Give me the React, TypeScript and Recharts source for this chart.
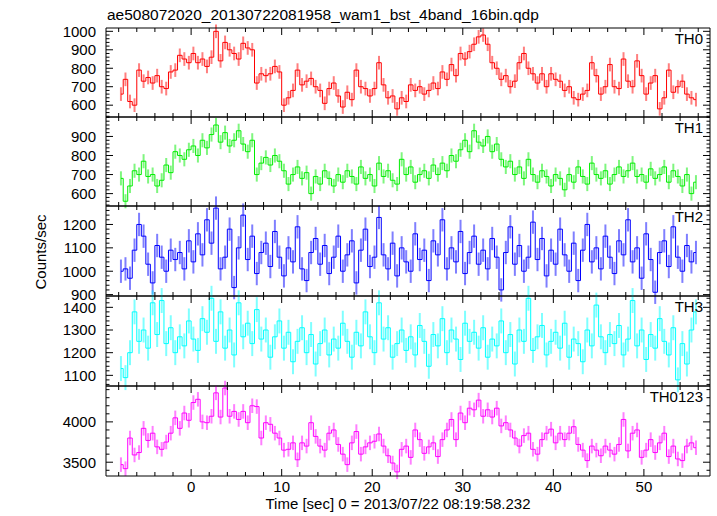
import React from 'react';
import { LineChart, Line, XAxis, YAxis, ErrorBar } from 'recharts';

// light curve: 0.5 s bins, first bin centre at -7.75 s
const T_START = -7.75;
const BIN = 0.5;

const th0 = [
  660, 740, 620, 600, 790, 730, 750, 720, 760, 700, 690, 780, 790, 870, 850, 830,
  880, 830, 850, 810, 860, 1000, 840, 940, 900, 880, 850, 935, 910, 900, 720, 770,
  760, 770, 810, 780, 600, 640, 680, 790, 710, 730, 745, 700, 680, 610, 690, 720,
  650, 590, 670, 630, 790, 700, 690, 650, 690, 830, 710, 640, 650, 580, 640, 620,
  710, 680, 700, 660, 680, 720, 690, 780, 740, 820, 760, 880, 850, 890, 930, 970,
  980, 930, 830, 800, 740, 760, 700, 730, 830, 880, 800, 770, 720, 770, 700, 770,
  740, 730, 680, 700, 640, 630, 660, 680, 830, 760, 660, 700, 820, 700, 690, 850,
  730, 700, 840, 760, 660, 720, 760, 580, 640, 790, 670, 700, 730, 660, 640, 630,
];

const th1 = [
  680, 560, 640, 720, 700, 770, 690, 700, 640, 670, 750, 710, 820, 800, 780, 830,
  850, 800, 880, 840, 910, 960, 870, 920, 850, 880, 930, 860, 820, 880, 700, 760,
  790, 750, 800, 770, 720, 650, 700, 740, 680, 710, 600, 690, 650, 720, 680, 640,
  700, 660, 720, 690, 650, 740, 680, 700, 640, 760, 690, 720, 670, 650, 780, 700,
  740, 660, 700, 720, 680, 750, 700, 760, 720, 800, 770, 830, 880, 820, 930, 870,
  850, 900, 820, 860, 780, 740, 770, 700, 740, 680, 780, 700, 660, 720, 690, 640,
  700, 680, 620, 700, 660, 740, 690, 650, 760, 700, 680, 720, 650, 700, 740, 690,
  720, 760, 690, 700, 660, 730, 680, 700, 740, 660, 720, 690, 640, 700, 600, 660,
];

const th2 = [
  1000, 1010, 970, 1090, 1200, 1150, 1030, 950, 1110, 1060, 1000, 1090, 1050, 1080, 1010, 1130,
  1040, 1160, 1070, 1220, 1120, 1270, 1010, 1060, 1180, 930, 1100, 1240, 1050, 1150, 990, 1080,
  1120, 1020, 1170, 1060, 980, 1100, 1040, 1190, 1010, 960, 1080, 1140, 1030, 1110, 990, 1060,
  1150, 1000, 1070, 1130, 950, 1090, 1180, 1020, 1060, 1230, 1070, 1010, 1120, 980, 1100, 1040,
  1000, 1160, 1050, 1090, 960, 1130, 1070, 1220, 1010, 1100, 1040, 1170, 990, 1080, 1150, 1030,
  1090, 1010, 1140, 1060, 920, 1080, 1190, 1030, 1110, 1000, 1060, 1210, 1050, 1140, 980, 1090,
  1030, 1180, 1070, 1000, 1120, 960, 1090, 1200, 1040, 1100, 1010, 1150, 1060, 990, 1130, 1070,
  1220, 1040, 1100, 970, 1160, 1050, 910, 1080, 1130, 1020, 1190, 1060, 1000, 1110, 1040, 1080,
];

const th3 = [
  1130, 1090, 1200, 1380, 1250, 1300, 1220, 1420, 1280, 1430, 1240, 1310, 1200, 1270, 1230, 1340,
  1260, 1210, 1350, 1290, 1440, 1250, 1380, 1220, 1300, 1190, 1420, 1270, 1330, 1240, 1390, 1260,
  1300, 1180, 1270, 1340, 1220, 1290, 1160, 1250, 1310, 1200, 1280, 1150, 1240, 1300, 1190, 1260,
  1220, 1330, 1250, 1180, 1290, 1230, 1380, 1270, 1200, 1420, 1260, 1310, 1180, 1240, 1300, 1210,
  1270, 1190, 1320, 1250, 1140, 1280, 1230, 1350, 1200, 1300, 1260, 1170, 1330, 1250, 1290, 1220,
  1310, 1180, 1260, 1230, 1340, 1200, 1280, 1150, 1300, 1250, 1440, 1210, 1270, 1320, 1190, 1250,
  1290, 1220, 1330, 1180, 1260, 1240, 1160, 1300, 1230, 1410, 1270, 1200, 1280, 1240, 1320, 1190,
  1260, 1430, 1230, 1300, 1170, 1280, 1220, 1350, 1250, 1190, 1310, 1080, 1240, 1150, 1300, 1380,
];

const th0123 = [
  3470, 3420, 3800, 3590, 3620, 3920, 3770, 3860, 3690, 3660, 3750, 3860, 4050, 3920, 4110, 4020,
  4240, 4280, 4000, 3990, 4070, 4360, 4060, 4420, 4070, 4130, 4030, 4130, 3990, 4200, 4190, 3800,
  3990, 3970, 3860, 3800, 3650, 3660, 3740, 3530, 3740, 3700, 3990, 3820, 3700, 3650, 3860, 3900,
  3720, 3600, 3470, 3740, 3880, 3600, 3690, 3740, 3760, 3850, 3700, 3580, 3490, 3380, 3660, 3700,
  3560, 3900, 3780, 3610, 3690, 3740, 3570, 3780, 3900, 4030, 3780, 4110, 3990, 4170, 4150, 4270,
  4070, 4150, 4060, 4170, 3950, 3990, 3900, 3800, 3700, 3830, 3860, 3660, 3600, 3780, 3860, 3910,
  3740, 3860, 3780, 3860, 3940, 3720, 3650, 3520, 3700, 3650, 3580, 3700, 3650, 3600, 3720, 4030,
  3640, 3860, 3900, 3560, 3650, 3780, 3620, 3740, 3860, 3570, 3700, 3540, 3520, 3700, 3740, 3680,
];

// typical 1-sigma error bar per band (counts/sec)
const errors = [37, 37, 50, 55, 90];

const bandNames = ['TH0', 'TH1', 'TH2', 'TH3', 'TH0123'];
const yLabels = [
  [600, 700, 800, 900, 1000],
  [600, 700, 800, 900],
  [900, 1000, 1100, 1200],
  [1100, 1200, 1300, 1400],
  [3500, 4000],
];
const xLabels = [0, 10, 20, 30, 40, 50];

const series = [th0, th1, th2, th3, th0123];
const colors = ['#ff0000', '#00ee00', '#0000ff', '#00ffff', '#ff00ff'];
const yDomains: [number, number][] = [
  [536, 1018],
  [535, 1002],
  [894, 1279],
  [1053, 1450],
  [3329, 4445],
];
const yMinorStep = [20, 20, 20, 20, 100];

const XMIN = -9.4;
const XMAX = 57.3;
const xTicks = Array.from({ length: 33 }, (_, i) => -8 + 2 * i);

const W = 717;
const PLOT_L = 106;
const PLOT_R = 710;
const panelTop = [28, 117, 206, 296, 386];
const panelH = [89, 89, 90, 90, 90];
const PAD = 12;
const FONT = '"Liberation Sans", Arial, Helvetica, sans-serif';

const minorTicks = (dom: [number, number], step: number) => {
  const out: number[] = [];
  for (let v = Math.ceil(dom[0] / step) * step; v <= dom[1]; v += step) out.push(v);
  return out;
};

const leftTick = (labels: number[]) => (props: any) => {
  const { y, payload } = props;
  const major = labels.includes(payload.value);
  return (
    <g>
      <line x1={PLOT_L} x2={PLOT_L + (major ? 7 : 3.5)} y1={y} y2={y} stroke="#000" strokeWidth={1} />
      {major && (
        <text x={PLOT_L - 10} y={y} dy={5.3} textAnchor="end" fontSize={15} fontFamily={FONT} fill="#000">
          {payload.value}
        </text>
      )}
    </g>
  );
};

const rightTick = (labels: number[]) => (props: any) => {
  const { y, payload } = props;
  const len = labels.includes(payload.value) ? 7 : 3.5;
  return <line x1={PLOT_R - len} x2={PLOT_R} y1={y} y2={y} stroke="#000" strokeWidth={1} />;
};

const bottomTick = (plotBottom: number, showLabel: boolean) => (props: any) => {
  const { x, payload } = props;
  const major = xLabels.includes(payload.value);
  return (
    <g>
      <line x1={x} x2={x} y1={plotBottom - (major ? 7 : 4)} y2={plotBottom} stroke="#000" strokeWidth={1} />
      {showLabel && major && (
        <text x={x} y={plotBottom + 16} textAnchor="middle" fontSize={15} fontFamily={FONT} fill="#000">
          {payload.value}
        </text>
      )}
    </g>
  );
};

const topTick = (plotTop: number) => (props: any) => {
  const { x, payload } = props;
  const major = xLabels.includes(payload.value);
  return <line x1={x} x2={x} y1={plotTop} y2={plotTop + (major ? 7 : 4)} stroke="#000" strokeWidth={1} />;
};

const Panel: React.FC<{ idx: number }> = ({ idx }) => {
  const values = series[idx];
  const data = values.map((v, i) => ({ t: T_START + i * BIN, v, e: errors[idx] }));
  const isLast = idx === series.length - 1;
  const h = panelH[idx];
  const bottomH = isLast ? 40 : PAD;
  const chartH = PAD + h + bottomH;
  const yTicks = minorTicks(yDomains[idx], yMinorStep[idx]);
  return (
    <div style={{ position: 'absolute', left: 0, top: panelTop[idx] - PAD }}>
      <LineChart
        width={W}
        height={chartH}
        data={data}
        margin={{ top: 0, right: 0, bottom: 0, left: 0 }}
      >
        <XAxis
          xAxisId="b"
          dataKey="t"
          type="number"
          domain={[XMIN, XMAX]}
          allowDataOverflow
          ticks={xTicks}
          interval={0}
          height={bottomH}
          tickLine={false}
          axisLine={{ stroke: '#000' }}
          tick={bottomTick(PAD + h, isLast)}
        />
        <XAxis
          xAxisId="top"
          dataKey="t"
          type="number"
          orientation="top"
          domain={[XMIN, XMAX]}
          allowDataOverflow
          ticks={xTicks}
          interval={0}
          height={PAD}
          tickLine={false}
          axisLine={{ stroke: '#000' }}
          tick={topTick(PAD)}
        />
        <YAxis
          yAxisId="l"
          type="number"
          domain={yDomains[idx]}
          allowDataOverflow
          ticks={yTicks}
          interval={0}
          width={PLOT_L}
          tickLine={false}
          axisLine={{ stroke: '#000' }}
          tick={leftTick(yLabels[idx])}
        />
        <YAxis
          yAxisId="r"
          type="number"
          orientation="right"
          domain={yDomains[idx]}
          allowDataOverflow
          ticks={yTicks}
          interval={0}
          width={W - PLOT_R}
          tickLine={false}
          axisLine={{ stroke: '#000' }}
          tick={rightTick(yLabels[idx])}
        />
        {/* invisible copy so the top / right frame axes are laid out */}
        <Line
          xAxisId="top"
          yAxisId="r"
          dataKey="v"
          stroke="none"
          dot={false}
          activeDot={false}
          isAnimationActive={false}
        />
        <Line
          xAxisId="b"
          yAxisId="l"
          dataKey="v"
          type="step"
          stroke={colors[idx]}
          strokeWidth={1}
          dot={false}
          activeDot={false}
          isAnimationActive={false}
        >
          <ErrorBar
            dataKey="e"
            direction="y"
            width={0}
            stroke={colors[idx]}
            strokeOpacity={0.5}
            strokeWidth={2}
            isAnimationActive={false}
          />
        </Line>
      </LineChart>
    </div>
  );
};

const App: React.FC = () => {
  return (
    <div
      style={{
        position: 'absolute',
        left: 0,
        top: 0,
        width: W,
        height: 516,
        background: '#fff',
        fontFamily: FONT,
      }}
    >
      {series.map((_, i) => (
        <Panel key={bandNames[i]} idx={i} />
      ))}
      <svg
        width={W}
        height={516}
        style={{ position: 'absolute', left: 0, top: 0, pointerEvents: 'none' }}
      >
        <text x={107} y={20} fontSize={15.5} fontFamily={FONT} fill="#000">
          ae508072020_20130722081958_wam1_bst_4band_16bin.qdp
        </text>
        {bandNames.map((name, i) => (
          <text
            key={name}
            x={703}
            y={panelTop[i] + 15.5}
            textAnchor="end"
            fontSize={15}
            fontFamily={FONT}
            fill="#000"
          >
            {name}
          </text>
        ))}
        <text
          x={0}
          y={0}
          transform="translate(46,252) rotate(-90)"
          textAnchor="middle"
          fontSize={15}
          fontFamily={FONT}
          fill="#000"
        >
          Counts/sec
        </text>
        <text x={398} y={509} textAnchor="middle" fontSize={15} fontFamily={FONT} fill="#000">
          Time [sec] 0 = 2013/07/22 08:19:58.232
        </text>
      </svg>
    </div>
  );
};

export default App;
